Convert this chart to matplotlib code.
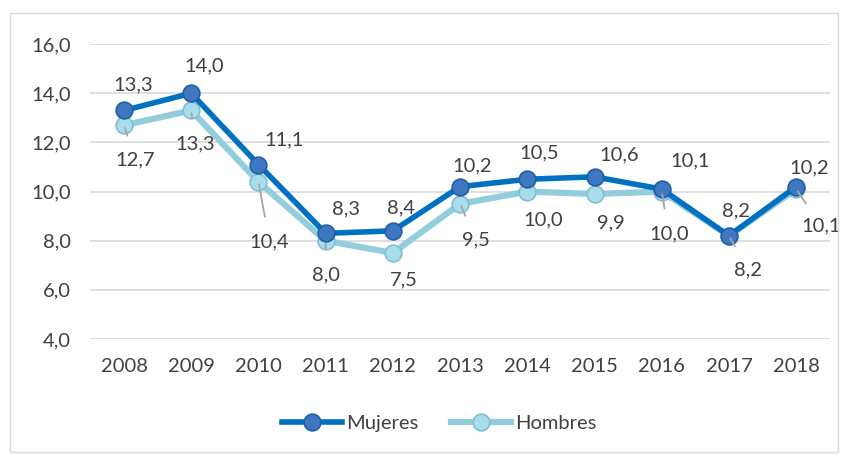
import matplotlib.pyplot as plt
from matplotlib.patches import Rectangle

# datos
anios = ["2008", "2009", "2010", "2011", "2012", "2013", "2014", "2015", "2016", "2017", "2018"]
mujeres = [13.3, 14.0, 11.1, 8.3, 8.4, 10.2, 10.5, 10.6, 10.1, 8.2, 10.2]
hombres = [12.7, 13.3, 10.4, 8.0, 7.5, 9.5, 10.0, 9.9, 10.0, 8.2, 10.1]
y_ticks = [4, 6, 8, 10, 12, 14, 16]

# desplazamiento de etiquetas (pixeles) y si llevan linea guia
off_muj = [(9, 26), (13, 27), (26, 25), (20, 24), (8, 23), (12, 21), (12, 26), (25, 22), (28, 28), (7, 25), (13, 19)]
off_hom = [(11, -35), (4, -33), (11, -60), (0, -34), (11, -27), (16, -36), (16, -28), (16, -29), (7, -42), (19, -34), (25, -37)]
guia_hom = [True, True, True, True, False, True, False, False, True, True, True]

plt.rcParams["font.family"] = ["Lato", "DejaVu Sans"]
texto = "#404040"
fs = 14.5

fig = plt.figure(figsize=(8.45, 4.55), dpi=100)
ax = fig.add_axes([0.107, 0.255, 0.875, 0.648])

x = list(range(len(anios)))

ax.plot(x, mujeres, color="#0070C0", lw=4, marker="o", ms=12,
        mfc="#3F78C0", mec="#1F5FA8", mew=1.2, zorder=4, label="Mujeres")
ax.plot(x, hombres, color="#92CDDC", lw=4.5, marker="o", ms=12,
        mfc="#A9DDEA", mec="#7FBFD2", mew=1.2, zorder=3, label="Hombres")

def fmt(v):
    return f"{v:.1f}".replace(".", ",")

for i in x:
    dx, dy = off_muj[i]
    ax.annotate(fmt(mujeres[i]), (i, mujeres[i]), xytext=(dx, dy),
                textcoords="offset pixels", ha="center", va="center",
                fontsize=fs, color=texto, zorder=6)
    dx, dy = off_hom[i]
    props = None
    if guia_hom[i]:
        props = dict(arrowstyle="-", color="#A6A6A6", lw=1.3, shrinkA=10, shrinkB=2)
    ax.annotate(fmt(hombres[i]), (i, hombres[i]), xytext=(dx, dy),
                textcoords="offset pixels", ha="center", va="center",
                fontsize=fs, color=texto, zorder=6, arrowprops=props)

ax.set_xlim(-0.5, len(anios) - 0.5)
ax.set_ylim(4, 16)
ax.set_yticks(y_ticks)
ax.set_yticklabels([fmt(v) for v in y_ticks])
ax.set_xticks(x)
ax.set_xticklabels(anios)
ax.tick_params(length=0, labelsize=fs, colors=texto)
ax.tick_params(axis="x", pad=14)
ax.tick_params(axis="y", pad=14)
ax.grid(axis="y", color="#D9D9D9", lw=1.2)
ax.set_axisbelow(True)
for s in ax.spines.values():
    s.set_visible(False)

ax.legend(loc="center", bbox_to_anchor=(0.52, 0.07), bbox_transform=fig.transFigure,
          ncol=2, frameon=False, fontsize=fs, labelcolor=texto,
          handlelength=3.0, columnspacing=1.6, handletextpad=0.2)

# borde del grafico
fig.patches.append(Rectangle((10 / 845, 3 / 455), 828 / 845, 439 / 455,
                             transform=fig.transFigure, fill=False,
                             ec="#D9D9D9", lw=1))

fig.savefig("out.png", dpi=100)
